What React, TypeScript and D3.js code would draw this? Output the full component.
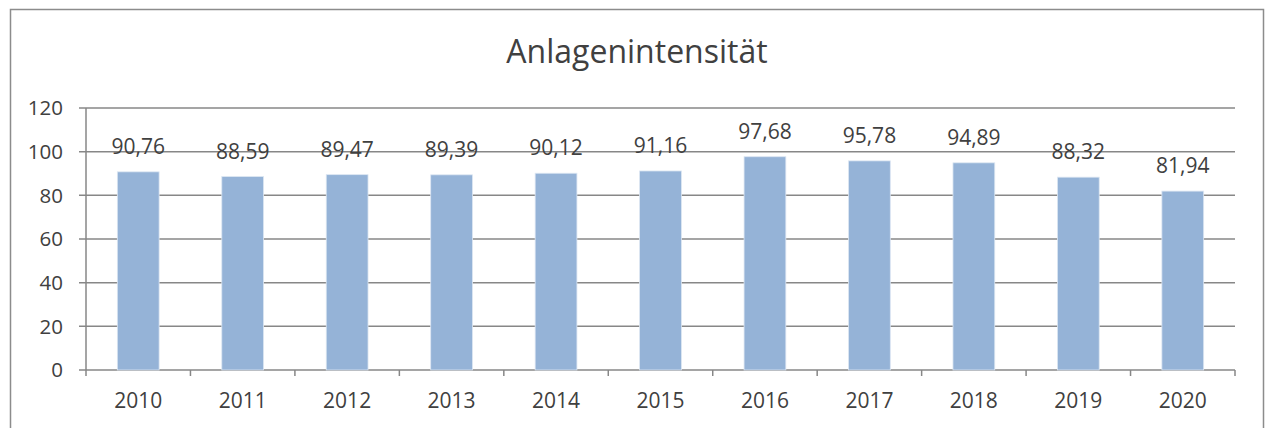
import React from 'react';
import * as d3 from 'd3';

const years = ['2010', '2011', '2012', '2013', '2014', '2015', '2016', '2017', '2018', '2019', '2020'];
const values = [90.76, 88.59, 89.47, 89.39, 90.12, 91.16, 97.68, 95.78, 94.89, 88.32, 81.94];
const yTicks = [0, 20, 40, 60, 80, 100, 120];
const title = 'Anlagenintensität';

const W = 1266;
const H = 428;
const plot = { left: 86, right: 1235, top: 108, bottom: 370 };
const font = '"Open Sans", "Noto Sans", sans-serif';
const textColor = '#404040';
const gridColor = '#878787';

const fmt = (v: number) => v.toFixed(2).replace('.', ',');

export default function App() {
  const x = d3.scaleBand<string>().domain(years).range([plot.left, plot.right]).paddingInner(0).paddingOuter(0);
  const y = d3.scaleLinear().domain([0, 120]).range([plot.bottom, plot.top]);
  const barW = x.bandwidth() * 0.4;

  return (
    <svg width={W} height={H} style={{ position: 'absolute', left: 0, top: 0, background: '#fff' }} fontFamily={font}>
      {/* chart frame, open at the bottom */}
      <path d={`M10.5,${H} V9.5 H1263.5 V${H}`} fill="none" stroke="#8c8c8c" strokeWidth={1.5} />

      <text x={637} y={63} textAnchor="middle" fontSize={32} fill={textColor}>{title}</text>

      {/* grid lines + y ticks */}
      {yTicks.map(t => (
        <g key={t}>
          <line x1={plot.left - 7} x2={plot.right} y1={y(t)} y2={y(t)} stroke={gridColor} strokeWidth={1.5} />
          <text x={63} y={y(t)} dy="0.35em" textAnchor="end" fontSize={20.5} fill={textColor}>{t}</text>
        </g>
      ))}
      <line x1={plot.left} x2={plot.left} y1={plot.top} y2={plot.bottom} stroke={gridColor} strokeWidth={1.5} />

      {/* category tick marks */}
      {[...years.map(c => x(c)!), plot.right].map((px, i) => (
        <line key={i} x1={px} x2={px} y1={plot.bottom} y2={plot.bottom + 6} stroke={gridColor} strokeWidth={1.5} />
      ))}

      {years.map((c, i) => {
        const cx = x(c)! + x.bandwidth() / 2;
        return (
          <g key={c}>
            <rect x={cx - barW / 2} y={y(values[i])} width={barW} height={plot.bottom - y(values[i])} fill="#95b3d7" stroke="#dce6f2" strokeWidth={0.8} />
            <text x={cx} y={y(values[i]) - 18} textAnchor="middle" fontSize={21} fill={textColor}>{fmt(values[i])}</text>
            <text x={cx} y={408} textAnchor="middle" fontSize={21} fill={textColor}>{c}</text>
          </g>
        );
      })}
    </svg>
  );
}
